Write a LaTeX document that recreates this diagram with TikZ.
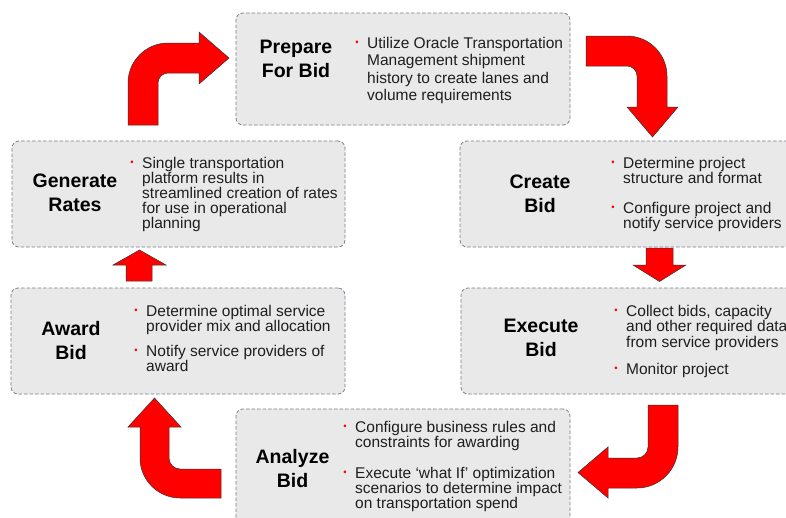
\documentclass[tikz,border=0pt]{standalone}
\usepackage{fontspec}
\setmainfont{Liberation Sans}
\definecolor{boxfill}{RGB}{233,233,233}
\definecolor{boxline}{RGB}{118,128,142}
\definecolor{bodytext}{RGB}{30,30,30}
\newcommand{\bul}{\leavevmode\llap{\raisebox{2.2pt}{\textcolor{red}{\fontsize{9.5}{9.5}\selectfont\textbullet}}\hspace{8.5pt}}}
\newcommand{\ttlbox}[1]{\parbox[t]{140pt}{\centering\fontsize{19.5}{24.5}\selectfont\bfseries #1}}
\newcommand{\itmbox}[2]{\parbox[t]{240pt}{\raggedright\fontsize{15.5}{#1}\selectfont\bul #2}}
\tikzset{
  stagebox/.style={draw=boxline, fill=boxfill, line width=0.8pt, dash pattern=on 3.5pt off 2pt, rounded corners=7pt, inner sep=0pt},
  blockarrow/.style={fill=red, draw=black!80, line width=0.5pt, line join=miter},
  ttl/.style={inner sep=0pt, anchor=base, text=black},
  itm/.style={inner sep=0pt, anchor=base west, text=bodytext},
}
\begin{document}
\begin{tikzpicture}[x=1pt, y=-1pt]
\useasboundingbox (0,0) rectangle (786,517);
\begin{scope}
\clip (0,0) rectangle (786,517);
\fill[white] (0,0) rectangle (786,517);

% boxes
\node[stagebox, minimum width=334pt, minimum height=112pt] (prep) at (403,69) {};
\node[stagebox, minimum width=333pt, minimum height=106pt] (gen) at (178.5,194) {};
\node[stagebox, minimum width=340pt, minimum height=106pt] (create) at (630,194) {};
\node[stagebox, minimum width=334pt, minimum height=106pt] (award) at (178,341) {};
\node[stagebox, minimum width=340pt, minimum height=106pt] (exec) at (631,341) {};
\node[stagebox, minimum width=334pt, minimum height=121pt] (anal) at (403,469.5) {};

% titles
\node[ttl] (tprep) at (296,53) {\ttlbox{Prepare\\For Bid}};
\node[ttl] (tgen) at (75,187) {\ttlbox{Generate\\Rates}};
\node[ttl] (tcreate) at (540,188) {\ttlbox{Create\\Bid}};
\node[ttl] (taward) at (71,335) {\ttlbox{Award\\Bid}};
\node[ttl] (texec) at (541,332) {\ttlbox{Execute\\Bid}};
\node[ttl] (tanal) at (292.5,463) {\ttlbox{Analyze\\Bid}};

% bullet texts
\node[itm] (iprep) at (367,48) {\itmbox{17.5}{Utilize Oracle Transportation\\Management shipment\\history to create lanes and\\volume requirements}};
\node[itm] (igen) at (142,168) {\itmbox{15}{Single transportation\\platform results in\\streamlined creation of rates\\for use in operational\\planning}};
\node[itm] (icreatea) at (623,168) {\itmbox{15}{Determine project\\structure and format}};
\node[itm] (icreateb) at (623,213) {\itmbox{15}{Configure project and\\notify service providers}};
\node[itm] (iawarda) at (146,316) {\itmbox{15}{Determine optimal service\\provider mix and allocation}};
\node[itm] (iawardb) at (146,356) {\itmbox{15}{Notify service providers of\\award}};
\node[itm] (iexeca) at (626,316) {\itmbox{15.5}{Collect bids, capacity\\and other required data\\from service providers}};
\node[itm] (iexecb) at (626,374) {\itmbox{15}{Monitor project}};
\node[itm] (ianala) at (355,432) {\itmbox{15.5}{Configure business rules and\\constraints for awarding}};
\node[itm] (ianalb) at (355,478) {\itmbox{15}{Execute ‘what If’ optimization\\scenarios to determine impact\\on transportation spend}};

% block arrows
% Generate -> Prepare
\draw[blockarrow] (128,125) -- (128,83) .. controls (128,61) and (146,43) .. (168,43)
  -- (199,43) -- (199,32) -- (229,58) -- (199,84) -- (199,73) -- (168,73)
  .. controls (162.5,73) and (158,77.5) .. (158,83) -- (158,125) -- cycle;
% Prepare -> Create
\draw[blockarrow] (586,36) -- (627,36) .. controls (649,36) and (667,54) .. (667,76)
  -- (667,107) -- (678,107) -- (652.5,137) -- (627,107) -- (637,107) -- (637,76)
  .. controls (637,70.5) and (632.5,66) .. (627,66) -- (586,66) -- cycle;
% Create -> Execute
\draw[blockarrow] (646,248) -- (673,248) -- (673,265) -- (686,265) -- (659.5,281.5)
  -- (633,265) -- (646,265) -- cycle;
% Execute -> Analyze
\draw[blockarrow] (648,405) -- (678,405) -- (678,447) .. controls (678,469.6) and (659.6,488) .. (637,488)
  -- (608,488) -- (608,498) -- (578,472.5) -- (608,447) -- (608,458) -- (637,458)
  .. controls (643,458) and (648,453) .. (648,447) -- cycle;
% Analyze -> Award
\draw[blockarrow] (221,469) -- (180,469) .. controls (174,469) and (169,464) .. (169,458)
  -- (169,427) -- (181,427) -- (154.5,398) -- (128,427) -- (140,427) -- (140,458)
  .. controls (140,480) and (158,498) .. (180,498) -- (221,498) -- cycle;
% Award -> Generate
\draw[blockarrow] (126,281) -- (126,265) -- (113,265) -- (139.5,250) -- (166,265)
  -- (152,265) -- (152,281) -- cycle;
\end{scope}
\end{tikzpicture}
\end{document}
